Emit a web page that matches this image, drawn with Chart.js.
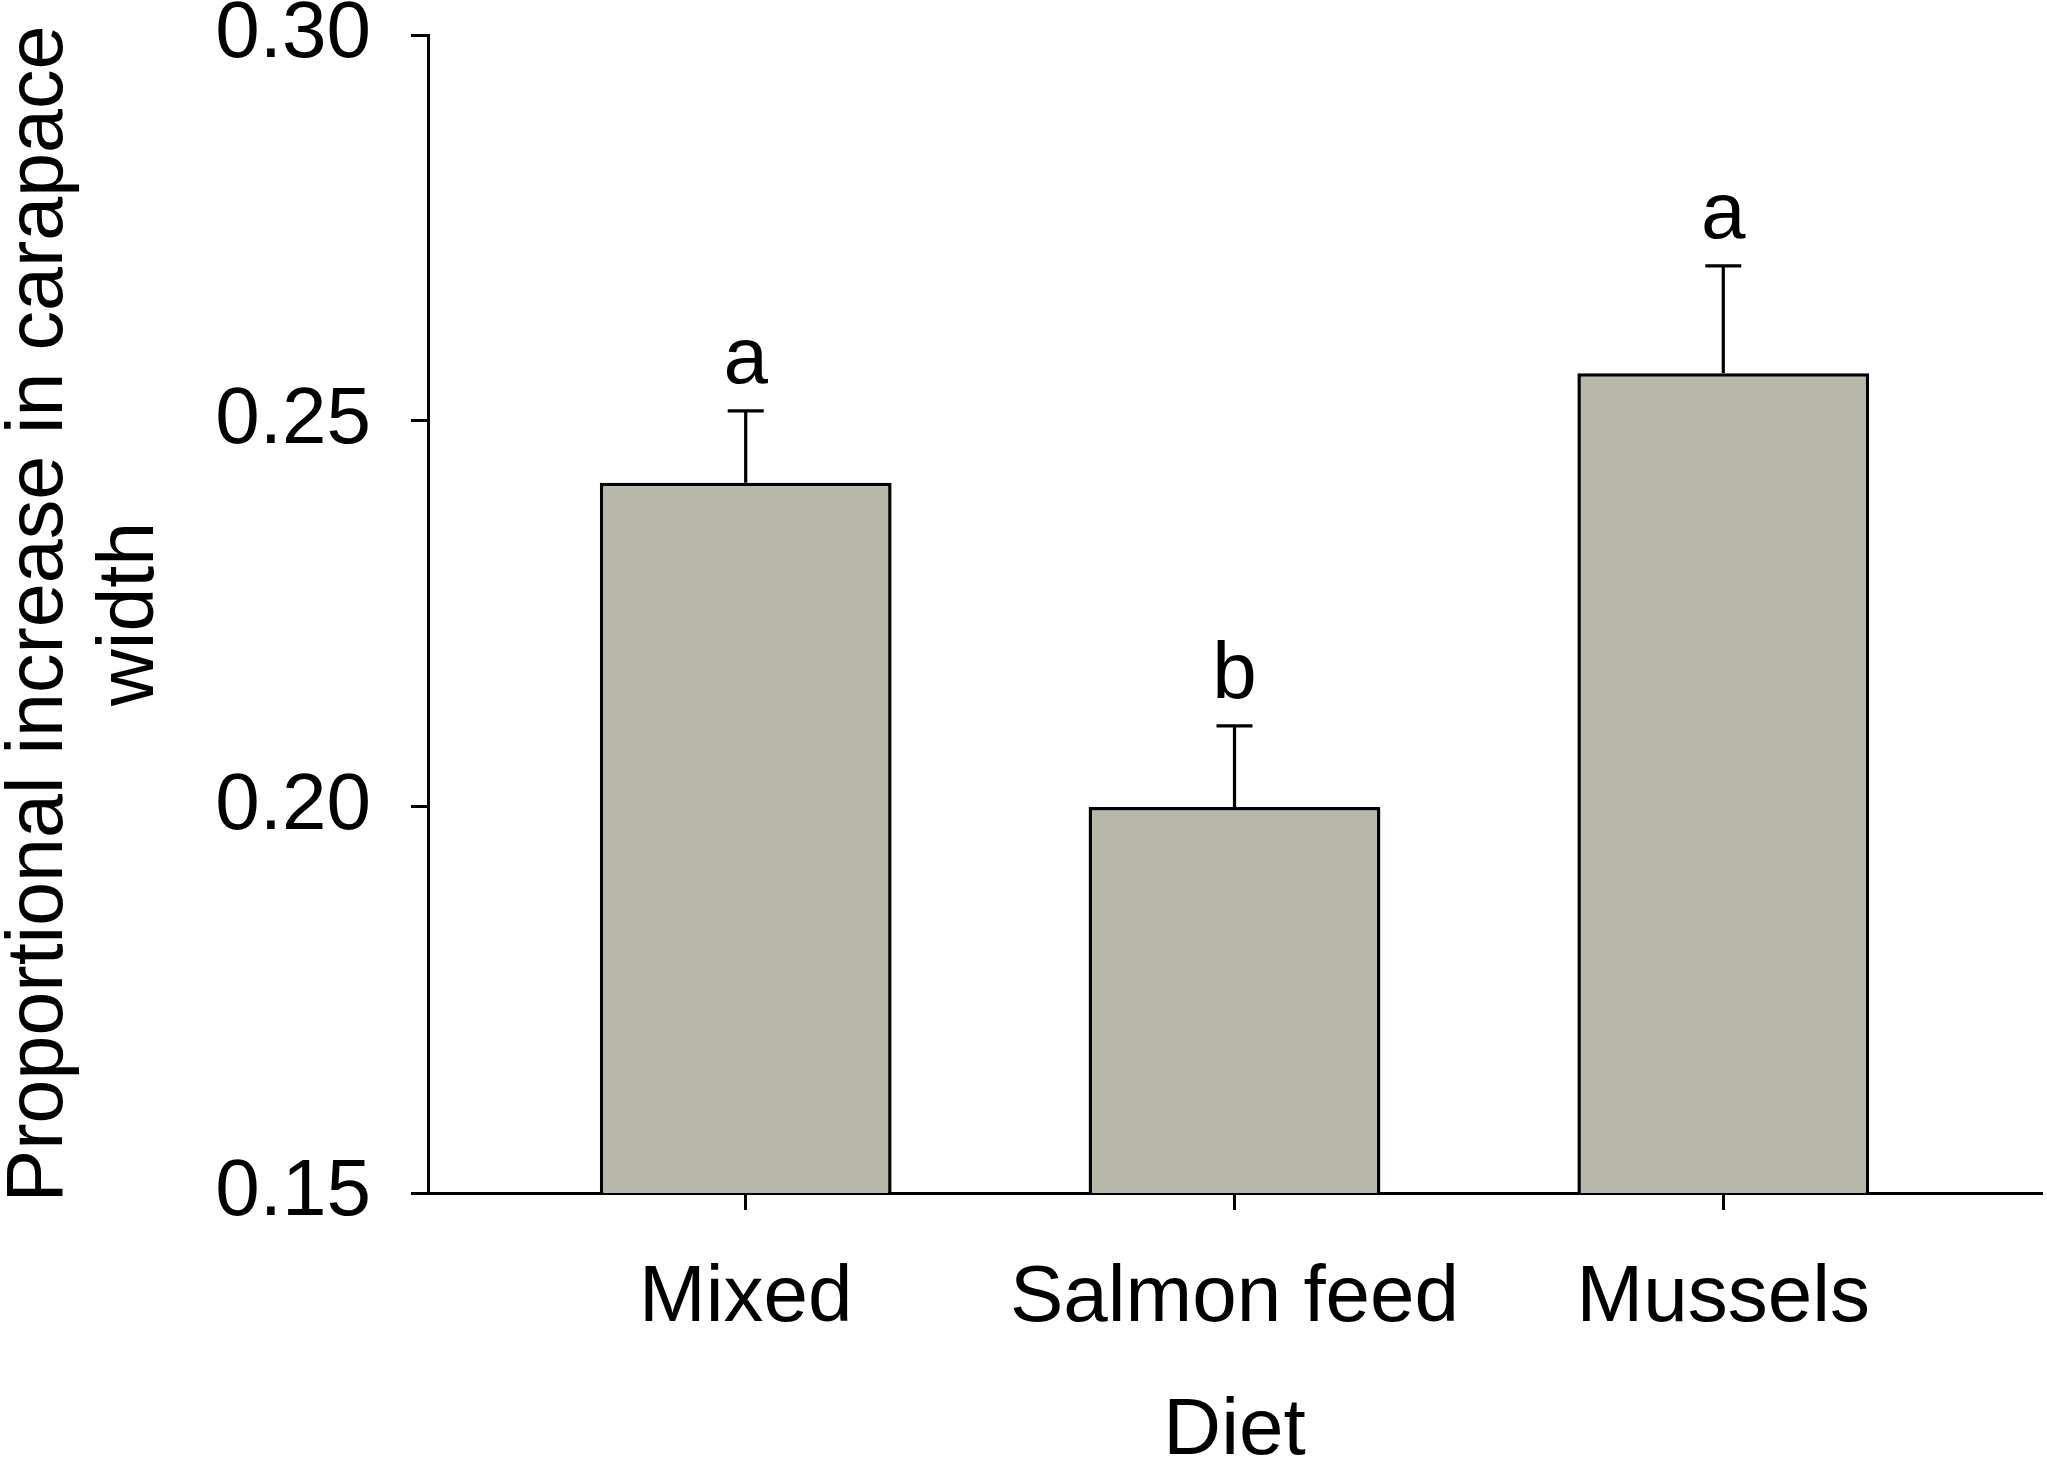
<!DOCTYPE html>
<html>
<head>
<meta charset="utf-8">
<script src="https://cdn.jsdelivr.net/npm/chart.js@4.4.1/dist/chart.umd.min.js"></script>
<style>
html,body{margin:0;padding:0;background:#fff;}
#wrap{width:2047px;height:1462px;position:relative;}
</style>
</head>
<body>
<div id="wrap"><canvas id="c"></canvas></div>
<script>
// ---- data ----
const categories = ['Mixed', 'Salmon feed', 'Mussels'];
const means = [0.2420, 0.2000, 0.2562];
const errors = [0.0093, 0.0105, 0.0139];
const letters = ['a', 'b', 'a'];
const yTickValues = [0.15, 0.20, 0.25, 0.30];
const yTitle = ['Proportional increase in carapace', 'width'];
const xTitle = 'Diet';

const FONT = "'Liberation Sans', Arial, sans-serif";
const barPoints = categories.map((c, i) => ({ x: i, y: means[i] }));

const errorBarPlugin = {
  id: 'errorBars',
  afterDatasetsDraw(chart) {
    const ctx = chart.ctx;
    const yScale = chart.scales.y;
    const meta = chart.getDatasetMeta(0);
    ctx.save();
    ctx.strokeStyle = '#000';
    ctx.lineWidth = 3.2;
    ctx.fillStyle = '#000';
    ctx.font = '80px ' + FONT;
    ctx.textAlign = 'center';
    ctx.textBaseline = 'alphabetic';
    meta.data.forEach((bar, i) => {
      const x = bar.x;
      const yBase = yScale.getPixelForValue(means[i]);
      const yTop = yScale.getPixelForValue(means[i] + errors[i]);
      ctx.beginPath();
      ctx.moveTo(x, yBase);
      ctx.lineTo(x, yTop);
      ctx.moveTo(x - 18, yTop);
      ctx.lineTo(x + 18, yTop);
      ctx.stroke();
      ctx.fillText(letters[i], x, yTop - 28);
    });
    ctx.restore();
  }
};

new Chart(document.getElementById('c'), {
  type: 'bar',
  data: {
    datasets: [{
      data: barPoints,
      backgroundColor: '#b7b7aa',
      borderColor: '#000',
      borderWidth: 3.5,
      borderSkipped: 'bottom',
      categoryPercentage: 1.0,
      barPercentage: 0.597
    }]
  },
  plugins: [errorBarPlugin],
  options: {
    responsive: true,
    maintainAspectRatio: false,
    devicePixelRatio: 1,
    animation: false,
    layout: { padding: { left: 0, right: 6, top: 0, bottom: 0 } },
    plugins: { legend: { display: false }, tooltip: { enabled: false } },
    scales: {
      x: {
        type: 'linear',
        min: -0.65,
        max: 2.65,
        offset: false,
        afterBuildTicks: (scale) => { scale.ticks = categories.map((c, i) => ({ value: i })); },
        afterFit: (scale) => { scale.height = 269; },
        ticks: {
          autoSkip: false,
          maxRotation: 0,
          padding: 41,
          color: '#000',
          font: { family: FONT, size: 80, lineHeight: 1.2 },
          callback: (v) => categories[v]
        },
        grid: { display: true, offset: false, drawOnChartArea: false, drawTicks: true, tickLength: 17, color: '#000', lineWidth: 3 },
        border: { display: true, color: '#000', width: 3 },
        title: {
          display: true,
          text: xTitle,
          color: '#000',
          font: { family: FONT, size: 80, lineHeight: 0.9 },
          padding: { top: 0, bottom: -6 }
        }
      },
      y: {
        min: 0.15,
        max: 0.30,
        afterBuildTicks: (scale) => { scale.ticks = yTickValues.map(v => ({ value: v })); },
        afterFit: (scale) => { scale.width = 428; scale.paddingTop = 35; scale.paddingBottom = 0; },
        ticks: {
          padding: 40,
          color: '#000',
          font: { family: FONT, size: 80, lineHeight: 0.875 },
          callback: (v) => Number(v).toFixed(2)
        },
        grid: { display: true, drawOnChartArea: false, drawTicks: true, tickLength: 17, color: '#000', lineWidth: 3 },
        border: { display: true, color: '#000', width: 3 },
        title: {
          display: true,
          text: yTitle,
          color: '#000',
          font: { family: FONT, size: 79, lineHeight: 1.16 },
          padding: { top: -6, bottom: 0 }
        }
      }
    }
  }
});
</script>
</body>
</html>
